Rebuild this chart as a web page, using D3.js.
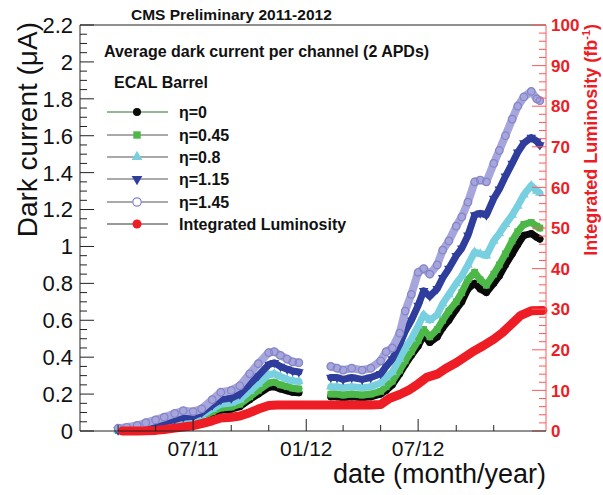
<!DOCTYPE html>
<html><head><meta charset="utf-8">
<script src="https://cdn.jsdelivr.net/npm/d3@7"></script>
<style>body{margin:0;background:#fff}svg{display:block;font-family:"Liberation Sans",Arial,sans-serif}</style>
</head><body>
<script>
// ---------------- data ----------------
const dates2011 = ["2011-03-01","2011-03-15","2011-04-01","2011-04-15","2011-05-01","2011-05-15","2011-06-01","2011-06-15","2011-07-01","2011-07-15","2011-08-01","2011-08-15","2011-09-01","2011-09-15","2011-10-01","2011-10-15","2011-11-01","2011-11-10","2011-11-20","2011-12-01","2011-12-10","2011-12-20"];
const dates2012 = ["2012-02-10","2012-02-20","2012-03-01","2012-03-15","2012-04-01","2012-04-15","2012-05-01","2012-05-10","2012-05-20","2012-06-01","2012-06-10","2012-06-20","2012-07-01","2012-07-10","2012-07-20","2012-08-01","2012-08-10","2012-08-20","2012-09-01","2012-09-10","2012-09-20","2012-10-01","2012-10-10","2012-10-20","2012-11-01","2012-11-10","2012-11-20","2012-12-01","2012-12-10","2012-12-20","2013-01-01","2013-01-10","2013-01-15"];

const eta0_2011   = [.002,.004,.008,.014,.022,.03,.04,.048,.053,.067,.095,.113,.118,.132,.17,.2,.237,.24,.228,.218,.21,.207];
const eta045_2011 = [.003,.005,.01,.017,.025,.034,.045,.054,.06,.075,.105,.125,.13,.145,.185,.22,.26,.265,.25,.24,.232,.228];
const eta08_2011  = [.004,.006,.012,.02,.03,.04,.052,.062,.068,.085,.12,.145,.152,.17,.215,.255,.305,.31,.295,.28,.272,.268];
const eta115_2011 = [.005,.008,.015,.025,.035,.048,.062,.075,.08,.1,.14,.17,.178,.2,.255,.3,.36,.37,.35,.335,.325,.32];
const eta145_2011 = [.015,.02,.03,.045,.06,.075,.095,.11,.105,.12,.17,.21,.22,.245,.31,.365,.425,.43,.41,.39,.375,.37];

const eta0_2012   = [.185,.185,.18,.185,.18,.185,.2,.22,.25,.31,.36,.41,.46,.52,.48,.51,.56,.6,.66,.7,.77,.8,.77,.75,.8,.84,.9,.96,1.01,1.06,1.07,1.05,1.04];
const eta045_2012 = [.2,.2,.195,.2,.195,.2,.215,.24,.27,.33,.38,.43,.49,.55,.51,.55,.6,.65,.7,.75,.82,.86,.82,.79,.85,.9,.96,1.03,1.08,1.12,1.13,1.11,1.1];
const eta08_2012  = [.24,.24,.235,.24,.235,.24,.26,.29,.32,.39,.45,.5,.57,.63,.6,.63,.69,.74,.8,.84,.9,.97,.96,.95,1.03,1.07,1.12,1.17,1.22,1.28,1.33,1.3,1.29];
const eta115_2012 = [.29,.29,.28,.29,.28,.29,.31,.35,.39,.47,.54,.6,.68,.76,.73,.77,.83,.88,.95,.99,1.06,1.17,1.18,1.17,1.26,1.31,1.38,1.45,1.51,1.56,1.59,1.57,1.55];
const eta145_2012 = [.35,.34,.33,.34,.33,.34,.38,.43,.45,.53,.65,.74,.86,.88,.85,.9,.98,1.03,1.11,1.16,1.24,1.35,1.36,1.35,1.45,1.52,1.6,1.69,1.76,1.81,1.84,1.8,1.79];

const lumiDates = ["2011-03-08","2011-04-01","2011-04-15","2011-05-01","2011-05-15","2011-06-01","2011-06-15","2011-07-01","2011-07-15","2011-08-01","2011-08-15","2011-09-01","2011-09-15","2011-10-01","2011-10-15","2011-11-01","2011-11-15","2011-12-15","2012-01-15","2012-02-15","2012-03-15","2012-04-15","2012-05-01","2012-05-15","2012-06-01","2012-06-15","2012-07-01","2012-07-15","2012-08-01","2012-08-15","2012-09-01","2012-09-15","2012-10-01","2012-10-15","2012-11-01","2012-11-15","2012-12-01","2012-12-15","2013-01-01","2013-01-20"];
const lumiValues = [0,0.02,0.05,0.15,0.35,0.7,1.0,1.3,1.8,2.5,3.2,3.4,3.7,4.5,5.4,6.3,6.4,6.4,6.4,6.4,6.4,6.4,6.5,8.0,9.0,10.0,11.6,13.2,14.0,15.4,16.8,18.2,19.8,21.0,22.6,24.2,26.5,28.5,29.6,29.7];

const leftTicks = [0,0.2,0.4,0.6,0.8,1,1.2,1.4,1.6,1.8,2,2.2];
const leftTickLabels = ["0","0.2","0.4","0.6","0.8","1","1.2","1.4","1.6","1.8","2","2.2"];
const rightTicks = [0,10,20,30,40,50,60,70,80,90,100];
const xMajorTicks = ["2011-07-01","2012-01-01","2012-07-01"];
const xMajorLabels = ["07/11","01/12","07/12"];
const xMinorTicks = ["2011-03-01","2011-05-01","2011-09-01","2011-11-01","2012-03-01","2012-05-01","2012-09-01","2012-11-01"];

const legendLabels = ["η=0","η=0.45","η=0.8","η=1.15","η=1.45","Integrated Luminosity"];

// ---------------- chart ----------------
const W = 603, H = 495;
const L = 80, R = 546, T = 25, B = 431;
const parse = d3.utcParse("%Y-%m-%d");
const svg = d3.select("body").append("svg").attr("width", W).attr("height", H);

const x = d3.scaleUtc().domain([parse("2010-12-29"), parse("2013-01-25")]).range([L, R]);
const y = d3.scaleLinear().domain([0, 2.2]).range([B, T]);
const y2 = d3.scaleLinear().domain([0, 100]).range([B, T]);

const series = [
  {v11: eta0_2011, v12: eta0_2012, color: "#0a0a0a", line: "#0a0a0a", sym: d3.symbolCircle, size: 40, fill: true, w: 7},
  {v11: eta045_2011, v12: eta045_2012, color: "#4db848", line: "#4db848", sym: d3.symbolSquare, size: 45, fill: true, w: 7},
  {v11: eta08_2011, v12: eta08_2012, color: "#78cfe0", line: "#78cfe0", sym: d3.symbolTriangle, size: 40, fill: true, w: 7},
  {v11: eta115_2011, v12: eta115_2012, color: "#2f3e9c", line: "#2f3e9c", sym: d3.symbolTriangle, size: 40, fill: true, down: true, w: 7},
  {v11: eta145_2011, v12: eta145_2012, color: "#8484c8", line: "#a6a6dc", sym: d3.symbolCircle, size: 45, fill: false, w: 8}
];

const plot = svg.append("g");
const lineGen = d3.line().x(d => x(d[0])).y(d => y(d[1]));

series.forEach(s => {
  [[dates2011, s.v11], [dates2012, s.v12]].forEach(([ds, vs]) => {
    const pts = ds.map((d, i) => [parse(d), vs[i]]);
    plot.append("path").attr("d", lineGen(pts)).attr("fill", "none")
      .attr("stroke", s.line).attr("stroke-width", s.w).attr("stroke-linejoin", "round").attr("stroke-linecap", "round");
    plot.selectAll(null).data(pts).enter().append("path")
      .attr("d", d3.symbol().type(s.sym).size(s.size))
      .attr("transform", d => `translate(${x(d[0])},${y(d[1])})${s.down ? " rotate(180)" : ""}`)
      .attr("fill", s.fill ? s.color : "none")
      .attr("stroke", s.color).attr("stroke-width", s.fill ? 0 : 1.2);
  });
});

// luminosity
const lumiPts = lumiDates.map((d, i) => [parse(d), lumiValues[i]]);
plot.append("path")
  .attr("d", d3.line().x(d => x(d[0])).y(d => y2(d[1]))(lumiPts))
  .attr("fill", "none").attr("stroke", "#ee1c24").attr("stroke-width", 9)
  .attr("stroke-linejoin", "round").attr("stroke-linecap", "round");

// frame
svg.append("line").attr("x1", L).attr("x2", R).attr("y1", T).attr("y2", T).attr("stroke", "#222").attr("stroke-width", 1);

// left axis
const gl = svg.append("g");
gl.append("line").attr("x1", L).attr("x2", L).attr("y1", T).attr("y2", B).attr("stroke", "#222");
d3.range(0, 2.2001, 0.05).forEach((v, i) => {
  const major = i % 4 === 0;
  gl.append("line").attr("x1", L).attr("x2", L + (major ? 14 : 7))
    .attr("y1", y(v)).attr("y2", y(v)).attr("stroke", "#222");
});
gl.selectAll("text").data(leftTicks).enter().append("text")
  .attr("x", L - 7).attr("y", d => y(d)).attr("dy", "0.36em")
  .attr("text-anchor", "end").attr("font-size", 22).attr("fill", "#111")
  .text((d, i) => leftTickLabels[i]);
svg.append("text").attr("transform", `translate(37,22) rotate(-90)`)
  .attr("text-anchor", "end").attr("font-size", 28).attr("fill", "#111")
  .text("Dark current (μA)");

// right axis
const gr = svg.append("g");
gr.append("line").attr("x1", R).attr("x2", R).attr("y1", T).attr("y2", B).attr("stroke", "#ff5a5a");
d3.range(0, 100.01, 2).forEach((v, i) => {
  const major = i % 5 === 0;
  gr.append("line").attr("x1", R).attr("x2", R - (major ? 14 : 7))
    .attr("y1", y2(v)).attr("y2", y2(v)).attr("stroke", "#ff5a5a");
});
gr.selectAll("text").data(rightTicks).enter().append("text")
  .attr("x", R + 5).attr("y", d => y2(d)).attr("dy", "0.36em")
  .attr("font-size", 17).attr("font-weight", "bold").attr("fill", "#ee1c24")
  .text(d => d);
const rt = svg.append("text").attr("transform", `translate(597,24) rotate(-90)`)
  .attr("text-anchor", "end").attr("font-size", 18).attr("font-weight", "bold").attr("fill", "#ee1c24");
rt.append("tspan").text("Integrated Luminosity (fb");
rt.append("tspan").attr("font-size", 11).attr("dy", -7).text("-1");
rt.append("tspan").attr("dy", 7).text(")");

// bottom axis
const gb = svg.append("g");
gb.append("line").attr("x1", L).attr("x2", R).attr("y1", B).attr("y2", B).attr("stroke", "#222");
xMajorTicks.forEach(d => {
  gb.append("line").attr("x1", x(parse(d))).attr("x2", x(parse(d))).attr("y1", B).attr("y2", B - 12).attr("stroke", "#222");
});
xMinorTicks.forEach(d => {
  gb.append("line").attr("x1", x(parse(d))).attr("x2", x(parse(d))).attr("y1", B).attr("y2", B - 6).attr("stroke", "#222");
});
gb.selectAll("text").data(xMajorTicks).enter().append("text")
  .attr("x", d => x(parse(d))).attr("y", 456).attr("text-anchor", "middle")
  .attr("font-size", 21).attr("fill", "#111").text((d, i) => xMajorLabels[i]);
svg.append("text").attr("x", R).attr("y", 483).attr("text-anchor", "end")
  .attr("font-size", 27).attr("fill", "#111").text("date (month/year)");

// titles
svg.append("text").attr("x", 131).attr("y", 20).attr("font-size", 15.5).attr("font-weight", "bold").attr("fill", "#111")
  .text("CMS Preliminary 2011-2012");
svg.append("text").attr("x", 104).attr("y", 57).attr("font-size", 16).attr("font-weight", "bold").attr("fill", "#111")
  .text("Average dark current per channel (2 APDs)");
svg.append("text").attr("x", 114).attr("y", 88).attr("font-size", 16).attr("font-weight", "bold").attr("fill", "#111")
  .text("ECAL Barrel");

// legend
const legY = [112, 135, 157, 179, 202, 224];
const legLine = ["#2a6e2a", "#555", "#555", "#555", "#555", "#333"];
const lg = svg.append("g");
legendLabels.forEach((lab, i) => {
  const yy = legY[i];
  lg.append("line").attr("x1", 107).attr("x2", 168).attr("y1", yy).attr("y2", yy).attr("stroke", legLine[i]).attr("stroke-width", 1);
  if (i < 5) {
    const s = series[i];
    lg.append("path").attr("d", d3.symbol().type(s.sym).size(s.size + 10))
      .attr("transform", `translate(137,${yy})${s.down ? " rotate(180)" : ""}`)
      .attr("fill", s.fill ? s.color : "#fff").attr("stroke", s.color).attr("stroke-width", s.fill ? 0 : 1.2);
  } else {
    lg.append("circle").attr("cx", 137).attr("cy", yy).attr("r", 4.5).attr("fill", "#ee1c24");
  }
  lg.append("text").attr("x", 179).attr("y", yy + 6).attr("font-size", 16).attr("font-weight", "bold").attr("fill", "#111").text(lab);
});
</script>
</body></html>
